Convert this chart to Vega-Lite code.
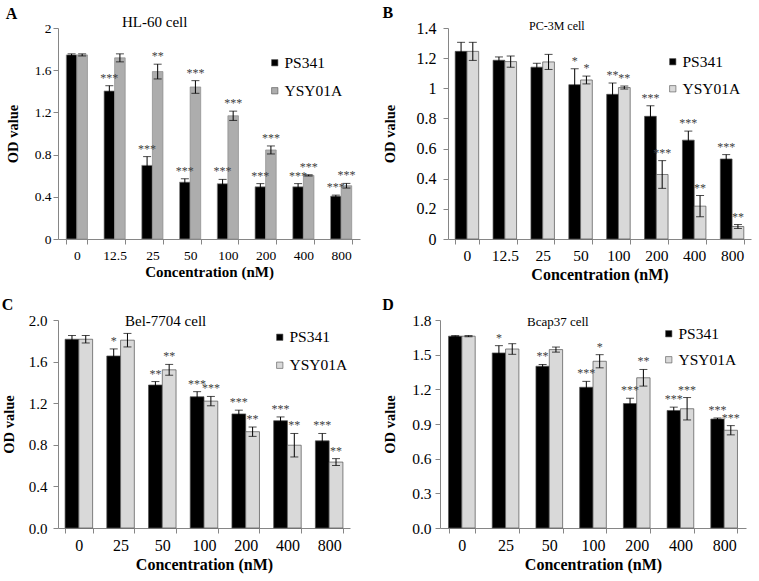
{
  "$schema": "https://vega.github.io/schema/vega-lite/v6.json",
  "padding": {"left": 1, "top": 5, "right": 2, "bottom": 2},
  "background": "white",
  "config": {
    "view": {"stroke": null},
    "font": "Liberation Serif",
    "axis": {"labelFont": "Liberation Serif", "titleFont": "Liberation Serif", "labelColor": "black", "titleColor": "black", "domainColor": "#868686", "tickColor": "#868686", "tickSize": 5, "grid": false, "titleFontWeight": "bold", "labelOverlap": false},
    "axisX": {"labelAngle": 0, "tickBand": "extent", "labelPadding": 4, "titlePadding": 3},
    "legend": {"labelFont": "Liberation Serif", "labelColor": "black"},
    "title": {"font": "Liberation Serif", "color": "black"},
    "text": {"font": "Liberation Serif"}
  },
  "datasets": {
    "A": [
      {"conc": "0", "drug": "PS341", "value": 1.745, "err": 0.01, "sig": ""},
      {"conc": "0", "drug": "YSY01A", "value": 1.745, "err": 0.01, "sig": ""},
      {"conc": "12.5", "drug": "PS341", "value": 1.403, "err": 0.05, "sig": "***"},
      {"conc": "12.5", "drug": "YSY01A", "value": 1.717, "err": 0.038, "sig": ""},
      {"conc": "25", "drug": "PS341", "value": 0.698, "err": 0.083, "sig": "***"},
      {"conc": "25", "drug": "YSY01A", "value": 1.587, "err": 0.07, "sig": "**"},
      {"conc": "50", "drug": "PS341", "value": 0.539, "err": 0.032, "sig": "***"},
      {"conc": "50", "drug": "YSY01A", "value": 1.441, "err": 0.06, "sig": "***"},
      {"conc": "100", "drug": "PS341", "value": 0.524, "err": 0.041, "sig": "***"},
      {"conc": "100", "drug": "YSY01A", "value": 1.168, "err": 0.044, "sig": "***"},
      {"conc": "200", "drug": "PS341", "value": 0.495, "err": 0.03, "sig": "***"},
      {"conc": "200", "drug": "YSY01A", "value": 0.844, "err": 0.038, "sig": "***"},
      {"conc": "400", "drug": "PS341", "value": 0.495, "err": 0.03, "sig": "***"},
      {"conc": "400", "drug": "YSY01A", "value": 0.603, "err": 0.006, "sig": "***"},
      {"conc": "800", "drug": "PS341", "value": 0.406, "err": 0.01, "sig": "***"},
      {"conc": "800", "drug": "YSY01A", "value": 0.505, "err": 0.022, "sig": "***"}
    ],
    "B": [
      {"conc": "0", "drug": "PS341", "value": 1.245, "err": 0.06, "sig": ""},
      {"conc": "0", "drug": "YSY01A", "value": 1.245, "err": 0.06, "sig": ""},
      {"conc": "12.5", "drug": "PS341", "value": 1.186, "err": 0.022, "sig": ""},
      {"conc": "12.5", "drug": "YSY01A", "value": 1.177, "err": 0.037, "sig": ""},
      {"conc": "25", "drug": "PS341", "value": 1.14, "err": 0.026, "sig": ""},
      {"conc": "25", "drug": "YSY01A", "value": 1.175, "err": 0.05, "sig": ""},
      {"conc": "50", "drug": "PS341", "value": 1.024, "err": 0.105, "sig": "*"},
      {"conc": "50", "drug": "YSY01A", "value": 1.055, "err": 0.026, "sig": "*"},
      {"conc": "100", "drug": "PS341", "value": 0.96, "err": 0.075, "sig": "**"},
      {"conc": "100", "drug": "YSY01A", "value": 1.005, "err": 0.01, "sig": "**"},
      {"conc": "200", "drug": "PS341", "value": 0.814, "err": 0.07, "sig": "***"},
      {"conc": "200", "drug": "YSY01A", "value": 0.428, "err": 0.092, "sig": "***"},
      {"conc": "400", "drug": "PS341", "value": 0.656, "err": 0.06, "sig": "***"},
      {"conc": "400", "drug": "YSY01A", "value": 0.218, "err": 0.07, "sig": "**"},
      {"conc": "800", "drug": "PS341", "value": 0.531, "err": 0.029, "sig": "***"},
      {"conc": "800", "drug": "YSY01A", "value": 0.083, "err": 0.013, "sig": "**"}
    ],
    "C": [
      {"conc": "0", "drug": "PS341", "value": 1.815, "err": 0.036, "sig": ""},
      {"conc": "0", "drug": "YSY01A", "value": 1.815, "err": 0.036, "sig": ""},
      {"conc": "25", "drug": "PS341", "value": 1.654, "err": 0.068, "sig": "*"},
      {"conc": "25", "drug": "YSY01A", "value": 1.806, "err": 0.065, "sig": ""},
      {"conc": "50", "drug": "PS341", "value": 1.375, "err": 0.033, "sig": "**"},
      {"conc": "50", "drug": "YSY01A", "value": 1.521, "err": 0.052, "sig": "**"},
      {"conc": "100", "drug": "PS341", "value": 1.262, "err": 0.049, "sig": "***"},
      {"conc": "100", "drug": "YSY01A", "value": 1.22, "err": 0.045, "sig": "***"},
      {"conc": "200", "drug": "PS341", "value": 1.097, "err": 0.036, "sig": "***"},
      {"conc": "200", "drug": "YSY01A", "value": 0.926, "err": 0.045, "sig": "**"},
      {"conc": "400", "drug": "PS341", "value": 1.032, "err": 0.036, "sig": "***"},
      {"conc": "400", "drug": "YSY01A", "value": 0.796, "err": 0.113, "sig": "**"},
      {"conc": "800", "drug": "PS341", "value": 0.838, "err": 0.071, "sig": "***"},
      {"conc": "800", "drug": "YSY01A", "value": 0.634, "err": 0.033, "sig": "**"}
    ],
    "D": [
      {"conc": "0", "drug": "PS341", "value": 1.66, "err": 0.005, "sig": ""},
      {"conc": "0", "drug": "YSY01A", "value": 1.66, "err": 0.005, "sig": ""},
      {"conc": "25", "drug": "PS341", "value": 1.515, "err": 0.063, "sig": "*"},
      {"conc": "25", "drug": "YSY01A", "value": 1.549, "err": 0.046, "sig": ""},
      {"conc": "50", "drug": "PS341", "value": 1.4, "err": 0.015, "sig": "**"},
      {"conc": "50", "drug": "YSY01A", "value": 1.544, "err": 0.022, "sig": ""},
      {"conc": "100", "drug": "PS341", "value": 1.218, "err": 0.051, "sig": "***"},
      {"conc": "100", "drug": "YSY01A", "value": 1.443, "err": 0.057, "sig": "*"},
      {"conc": "200", "drug": "PS341", "value": 1.077, "err": 0.046, "sig": "***"},
      {"conc": "200", "drug": "YSY01A", "value": 1.3, "err": 0.072, "sig": "**"},
      {"conc": "400", "drug": "PS341", "value": 1.017, "err": 0.029, "sig": "***"},
      {"conc": "400", "drug": "YSY01A", "value": 1.032, "err": 0.097, "sig": "***"},
      {"conc": "800", "drug": "PS341", "value": 0.943, "err": 0.009, "sig": "***"},
      {"conc": "800", "drug": "YSY01A", "value": 0.846, "err": 0.04, "sig": "***"}
    ]
  },
  "columns": 2,
  "align": "none",
  "spacing": {"row": 13, "column": 22},
  "resolve": {"scale": {"color": "independent", "xOffset": "independent"}, "legend": {"color": "independent"}},
  "concat": [
    {
      "title": {"text": "A", "anchor": "start", "frame": "bounds", "fontSize": 16, "fontWeight": "bold", "offset": -7.5},
      "resolve": {"scale": {"color": "independent", "xOffset": "independent"}, "legend": {"color": "independent"}},
      "vconcat": [
        {
          "width": 302, "height": 211,
          "title": {"text": "HL-60 cell", "anchor": "start", "frame": "group", "dx": 64, "offset": -8.5, "fontSize": 15, "fontWeight": "normal"},
          "data": {"name": "A"},
          "transform": [
            {"calculate": "datum.value - datum.err", "as": "lo"},
            {"calculate": "datum.value + datum.err", "as": "hi"}
          ],
          "encoding": {
            "x": {"field": "conc", "type": "ordinal", "sort": ["0", "12.5", "25", "50", "100", "200", "400", "800"], "scale": {"paddingInner": 0.44, "paddingOuter": 0.22}, "axis": {"title": "Concentration (nM)", "labelFontSize": 13.5, "titleFontSize": 15}},
            "xOffset": {"field": "drug", "type": "nominal", "sort": ["PS341", "YSY01A"], "scale": {"paddingInner": 0, "paddingOuter": 0}}
          },
          "layer": [
            {
              "mark": {"type": "bar", "stroke": "#8a8a8a", "strokeWidth": 0.7},
              "encoding": {
                "y": {"field": "value", "type": "quantitative", "scale": {"domain": [0, 2], "nice": false}, "axis": {"values": [0, 0.4, 0.8, 1.2, 1.6, 2], "tickCount": 20, "format": "~g", "title": "OD value", "labelOverlap": false, "labelFontSize": 13.5, "titleFontSize": 14.5, "labelPadding": 2, "titlePadding": 13.5}},
                "color": {"field": "drug", "type": "nominal", "sort": ["PS341", "YSY01A"], "scale": {"domain": ["PS341", "YSY01A"], "range": ["#000000", "#adadad"]}, "legend": {"title": null, "orient": "none", "legendX": 209, "legendY": 27, "symbolType": "square", "symbolSize": 40, "symbolStrokeColor": "#505050", "symbolStrokeWidth": 0.6, "labelFontSize": 15.5, "rowPadding": 11, "labelOffset": 2}}
              }
            },
            {"mark": {"type": "rule", "color": "black", "strokeWidth": 1}, "encoding": {"y": {"field": "lo", "type": "quantitative"}, "y2": {"field": "hi"}}},
            {"mark": {"type": "tick", "color": "black", "thickness": 1, "size": 8}, "encoding": {"y": {"field": "hi", "type": "quantitative"}}},
            {"mark": {"type": "tick", "color": "black", "thickness": 1, "size": 8}, "encoding": {"y": {"field": "lo", "type": "quantitative"}}},
            {"transform": [{"filter": "datum.sig != ''"}], "mark": {"type": "text", "baseline": "alphabetic", "dy": -4, "fontSize": 12, "color": "#404040"}, "encoding": {"y": {"field": "hi", "type": "quantitative"}, "text": {"field": "sig"}}}
          ]
        }
      ]
    },
    {
      "title": {"text": "B", "anchor": "start", "frame": "bounds", "fontSize": 16, "fontWeight": "bold", "offset": -1},
      "resolve": {"scale": {"color": "independent", "xOffset": "independent"}, "legend": {"color": "independent"}},
      "vconcat": [
        {
          "width": 303, "height": 211,
          "title": {"text": "PC-3M cell", "anchor": "start", "frame": "group", "dx": 81, "offset": -13, "fontSize": 12, "fontWeight": "normal"},
          "data": {"name": "B"},
          "transform": [
            {"calculate": "datum.value - datum.err", "as": "lo"},
            {"calculate": "datum.value + datum.err", "as": "hi"}
          ],
          "encoding": {
            "x": {"field": "conc", "type": "ordinal", "sort": ["0", "12.5", "25", "50", "100", "200", "400", "800"], "scale": {"paddingInner": 0.38, "paddingOuter": 0.19}, "axis": {"title": "Concentration (nM)", "labelFontSize": 15.5, "titleFontSize": 16}},
            "xOffset": {"field": "drug", "type": "nominal", "sort": ["PS341", "YSY01A"], "scale": {"paddingInner": 0, "paddingOuter": 0}}
          },
          "layer": [
            {
              "mark": {"type": "bar", "stroke": "#505050", "strokeWidth": 0.7},
              "encoding": {
                "y": {"field": "value", "type": "quantitative", "scale": {"domain": [0, 1.4], "nice": false}, "axis": {"values": [0, 0.2, 0.4, 0.6, 0.8, 1, 1.2, 1.4], "tickCount": 20, "format": "~g", "title": "OD value", "labelOverlap": false, "labelFontSize": 16, "titleFontSize": 14.5, "labelPadding": 7, "titlePadding": 18.5}},
                "color": {"field": "drug", "type": "nominal", "sort": ["PS341", "YSY01A"], "scale": {"domain": ["PS341", "YSY01A"], "range": ["#000000", "#d9d9d9"]}, "legend": {"title": null, "orient": "none", "legendX": 217, "legendY": 26, "symbolType": "square", "symbolSize": 40, "symbolStrokeColor": "#505050", "symbolStrokeWidth": 0.6, "labelFontSize": 15.5, "rowPadding": 10, "labelOffset": 2}}
              }
            },
            {"mark": {"type": "rule", "color": "black", "strokeWidth": 1}, "encoding": {"y": {"field": "lo", "type": "quantitative"}, "y2": {"field": "hi"}}},
            {"mark": {"type": "tick", "color": "black", "thickness": 1, "size": 8}, "encoding": {"y": {"field": "hi", "type": "quantitative"}}},
            {"mark": {"type": "tick", "color": "black", "thickness": 1, "size": 8}, "encoding": {"y": {"field": "lo", "type": "quantitative"}}},
            {"transform": [{"filter": "datum.sig != ''"}], "mark": {"type": "text", "baseline": "alphabetic", "dy": -4, "fontSize": 12, "color": "#404040"}, "encoding": {"y": {"field": "hi", "type": "quantitative"}, "text": {"field": "sig"}}}
          ]
        }
      ]
    },
    {
      "title": {"text": "C", "anchor": "start", "frame": "bounds", "fontSize": 16, "fontWeight": "bold", "offset": 0.5},
      "resolve": {"scale": {"color": "independent", "xOffset": "independent"}, "legend": {"color": "independent"}},
      "vconcat": [
        {
          "width": 292, "height": 208,
          "title": {"text": "Bel-7704 cell", "anchor": "start", "frame": "group", "dx": 67, "offset": -15.5, "fontSize": 15, "fontWeight": "normal"},
          "data": {"name": "C"},
          "transform": [
            {"calculate": "datum.value - datum.err", "as": "lo"},
            {"calculate": "datum.value + datum.err", "as": "hi"}
          ],
          "encoding": {
            "x": {"field": "conc", "type": "ordinal", "sort": ["0", "25", "50", "100", "200", "400", "800"], "scale": {"paddingInner": 0.34, "paddingOuter": 0.17}, "axis": {"title": "Concentration (nM)", "labelFontSize": 16, "titleFontSize": 16}},
            "xOffset": {"field": "drug", "type": "nominal", "sort": ["PS341", "YSY01A"], "scale": {"paddingInner": 0, "paddingOuter": 0}}
          },
          "layer": [
            {
              "mark": {"type": "bar", "stroke": "#505050", "strokeWidth": 0.7},
              "encoding": {
                "y": {"field": "value", "type": "quantitative", "scale": {"domain": [0, 2], "nice": false}, "axis": {"values": [0, 0.4, 0.8, 1.2, 1.6, 2], "tickCount": 20, "format": ".1f", "title": "OD value", "labelOverlap": false, "labelFontSize": 15, "titleFontSize": 14.5, "labelPadding": 6, "titlePadding": 11.5}},
                "color": {"field": "drug", "type": "nominal", "sort": ["PS341", "YSY01A"], "scale": {"domain": ["PS341", "YSY01A"], "range": ["#000000", "#d9d9d9"]}, "legend": {"title": null, "orient": "none", "legendX": 214, "legendY": 9.5, "symbolType": "square", "symbolSize": 40, "symbolStrokeColor": "#505050", "symbolStrokeWidth": 0.6, "labelFontSize": 15.5, "rowPadding": 11, "labelOffset": 2}}
              }
            },
            {"mark": {"type": "rule", "color": "black", "strokeWidth": 1}, "encoding": {"y": {"field": "lo", "type": "quantitative"}, "y2": {"field": "hi"}}},
            {"mark": {"type": "tick", "color": "black", "thickness": 1, "size": 8}, "encoding": {"y": {"field": "hi", "type": "quantitative"}}},
            {"mark": {"type": "tick", "color": "black", "thickness": 1, "size": 8}, "encoding": {"y": {"field": "lo", "type": "quantitative"}}},
            {"transform": [{"filter": "datum.sig != ''"}], "mark": {"type": "text", "baseline": "alphabetic", "dy": -4, "fontSize": 12, "color": "#404040"}, "encoding": {"y": {"field": "hi", "type": "quantitative"}, "text": {"field": "sig"}}}
          ]
        }
      ]
    },
    {
      "title": {"text": "D", "anchor": "start", "frame": "bounds", "fontSize": 16, "fontWeight": "bold", "offset": 0.5},
      "resolve": {"scale": {"color": "independent", "xOffset": "independent"}, "legend": {"color": "independent"}},
      "vconcat": [
        {
          "width": 306, "height": 208,
          "title": {"text": "Bcap37 cell", "anchor": "start", "frame": "group", "dx": 87, "offset": -16, "fontSize": 13, "fontWeight": "normal"},
          "data": {"name": "D"},
          "transform": [
            {"calculate": "datum.value - datum.err", "as": "lo"},
            {"calculate": "datum.value + datum.err", "as": "hi"}
          ],
          "encoding": {
            "x": {"field": "conc", "type": "ordinal", "sort": ["0", "25", "50", "100", "200", "400", "800"], "scale": {"paddingInner": 0.39, "paddingOuter": 0.195}, "axis": {"title": "Concentration (nM)", "labelFontSize": 16, "titleFontSize": 16}},
            "xOffset": {"field": "drug", "type": "nominal", "sort": ["PS341", "YSY01A"], "scale": {"paddingInner": 0, "paddingOuter": 0}}
          },
          "layer": [
            {
              "mark": {"type": "bar", "stroke": "#505050", "strokeWidth": 0.7},
              "encoding": {
                "y": {"field": "value", "type": "quantitative", "scale": {"domain": [0, 1.8], "nice": false}, "axis": {"values": [0, 0.3, 0.6, 0.9, 1.2, 1.5, 1.8], "tickCount": 20, "format": ".1f", "title": "OD value", "labelOverlap": false, "labelFontSize": 15.5, "titleFontSize": 14.5, "labelPadding": 4, "titlePadding": 14.5}},
                "color": {"field": "drug", "type": "nominal", "sort": ["PS341", "YSY01A"], "scale": {"domain": ["PS341", "YSY01A"], "range": ["#000000", "#d9d9d9"]}, "legend": {"title": null, "orient": "none", "legendX": 221, "legendY": 6, "symbolType": "square", "symbolSize": 40, "symbolStrokeColor": "#505050", "symbolStrokeWidth": 0.6, "labelFontSize": 15.5, "rowPadding": 9, "labelOffset": 2}}
              }
            },
            {"mark": {"type": "rule", "color": "black", "strokeWidth": 1}, "encoding": {"y": {"field": "lo", "type": "quantitative"}, "y2": {"field": "hi"}}},
            {"mark": {"type": "tick", "color": "black", "thickness": 1, "size": 8}, "encoding": {"y": {"field": "hi", "type": "quantitative"}}},
            {"mark": {"type": "tick", "color": "black", "thickness": 1, "size": 8}, "encoding": {"y": {"field": "lo", "type": "quantitative"}}},
            {"transform": [{"filter": "datum.sig != ''"}], "mark": {"type": "text", "baseline": "alphabetic", "dy": -4, "fontSize": 12, "color": "#404040"}, "encoding": {"y": {"field": "hi", "type": "quantitative"}, "text": {"field": "sig"}}}
          ]
        }
      ]
    }
  ]
}
